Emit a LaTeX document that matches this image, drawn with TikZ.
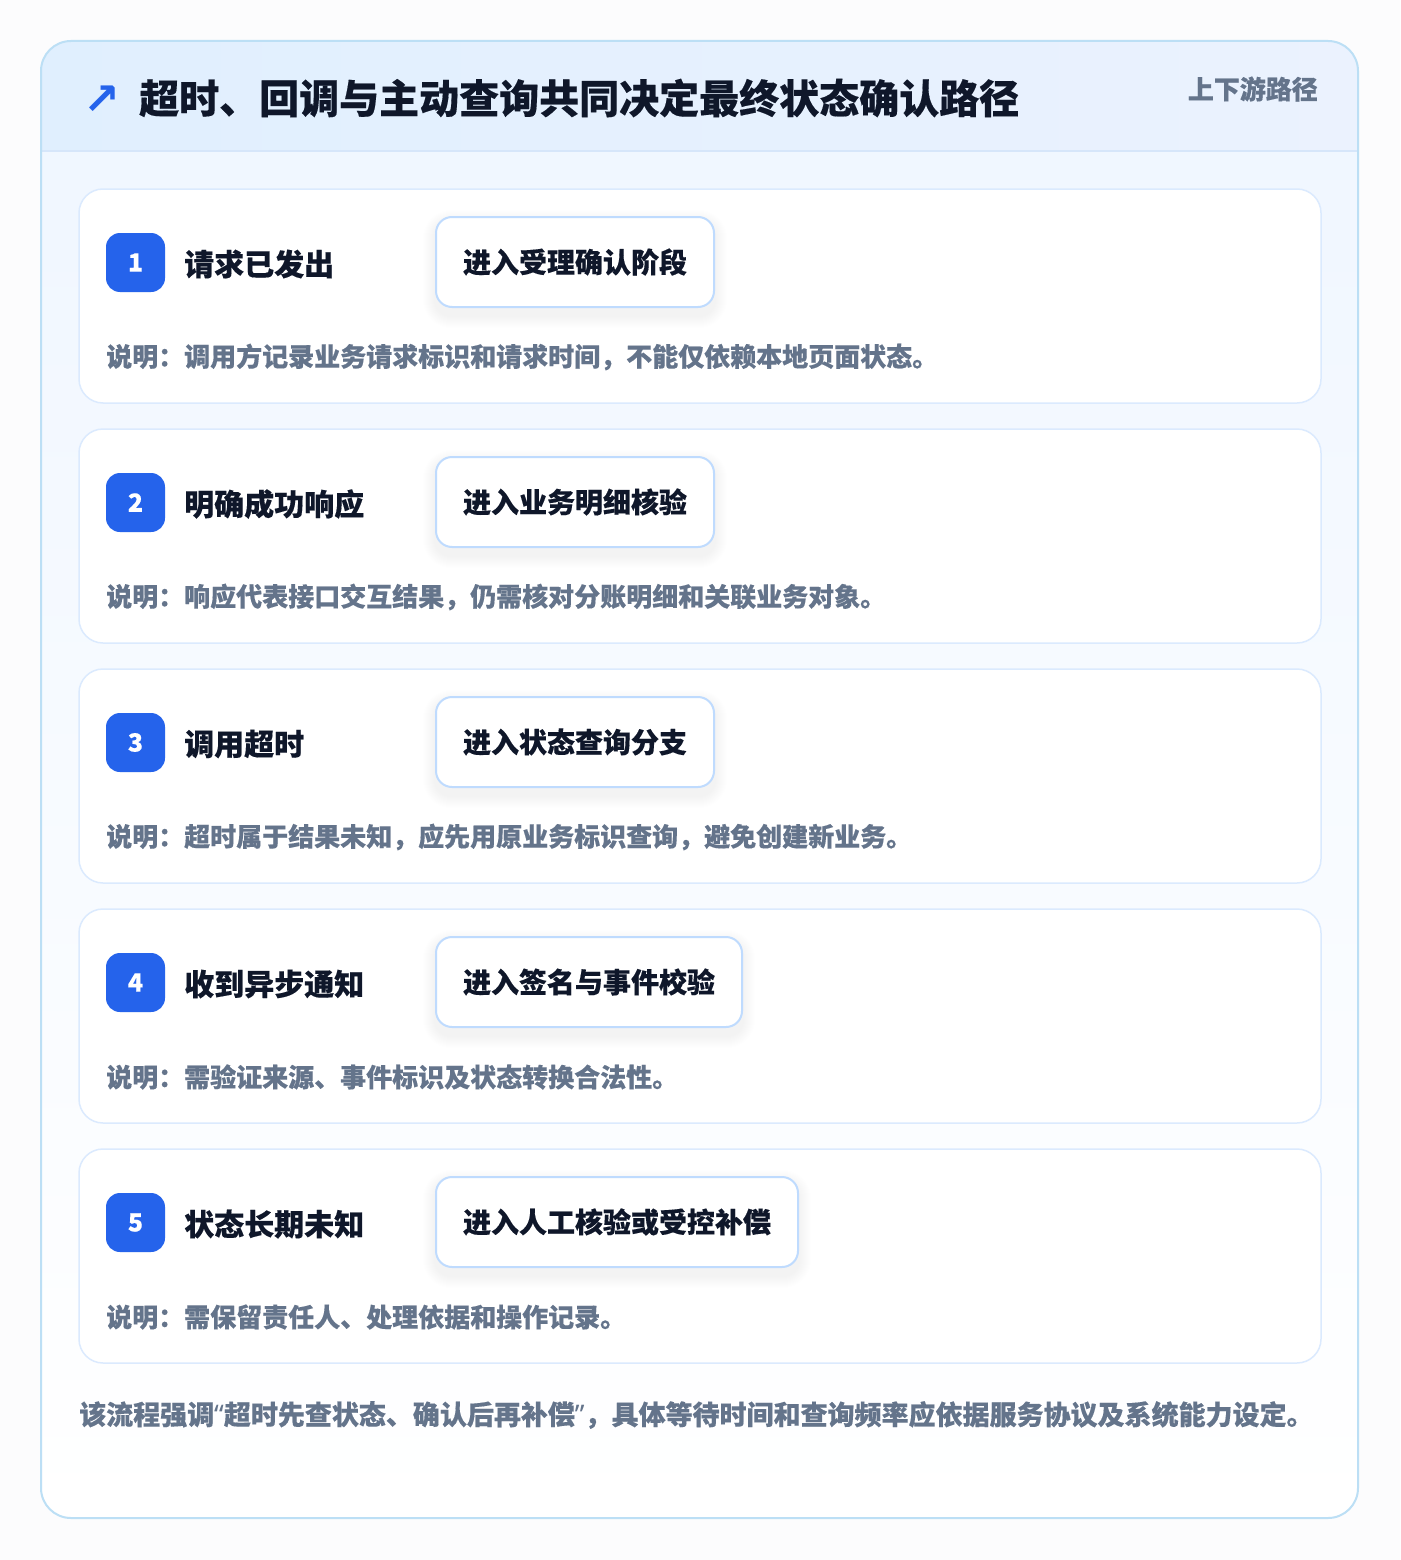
\documentclass[tikz,border=0pt]{standalone}
\usepackage{fontspec}
\setmainfont{Noto Sans CJK SC}[BoldFeatures={FakeBold=0.3}]
\newfontfamily\latinfont{Noto Sans}
\newfontfamily\symfont{DejaVu Sans}
\definecolor{pagebg}{HTML}{FCFCFD}
\definecolor{cardtop}{HTML}{EFF6FF}
\definecolor{cardborder}{HTML}{BCDFF5}
\definecolor{headl}{HTML}{E0EFFE}
\definecolor{headr}{HTML}{EBF2FE}
\definecolor{headline}{HTML}{D6E6FA}
\definecolor{stepborder}{HTML}{DBEAFE}
\definecolor{boxborder}{HTML}{BFDBFE}
\definecolor{badgeblue}{HTML}{2563EB}
\definecolor{ink}{HTML}{0F172A}
\definecolor{muted}{HTML}{64748B}
\pgfdeclarelayer{back}
\pgfdeclarelayer{mid}
\pgfsetlayers{back,mid,main}
\tikzset{
  stepcard/.style={draw=stepborder, line width=1.5pt, fill=white, rounded corners=24pt,
    minimum width=1242pt, minimum height=214pt, inner sep=0pt},
  badge/.style={fill=badgeblue, rounded corners=14pt, minimum width=59pt, minimum height=59pt,
    inner sep=0pt, text=white, font=\fontsize{25}{30}\selectfont\bfseries},
  steplabel/.style={anchor=west, inner sep=0pt, text=ink, font=\fontsize{30}{36}\selectfont\bfseries},
  actionbox/.style={draw=boxborder, line width=2pt, fill=white, rounded corners=16pt,
    minimum height=90pt, inner xsep=27pt, inner ysep=0pt, anchor=west, text=ink,
    font=\fontsize{28}{34}\selectfont\bfseries},
  desc/.style={anchor=west, inner sep=0pt, text=muted, font=\fontsize{26}{32}\selectfont\bfseries},
  shadowlayer/.style={fill=black, fill opacity=#1},
}
\newcommand{\myopenq}{{\latinfont\bfseries “}}
\newcommand{\mycloseq}{{\latinfont\bfseries ”}}
\begin{document}
\begin{tikzpicture}[x=1pt,y=-1pt]
\useasboundingbox (0,0) rectangle (1400,1560);
\begin{pgfonlayer}{back}
\fill[pagebg] (0,0) rectangle (1400,1560);
% soft shadow of the outer card
\foreach \k in {2,4,...,60}{
  \fill[shadowlayer=0.0018, rounded corners=30+\k]
    (41-\k,41-\k+22) rectangle (1358+\k,1518+\k+22);
}
% outer card
\path[rounded corners=30pt, top color=cardtop, bottom color=white] (41,41) rectangle (1358,1518);
\begin{scope}
  \clip[rounded corners=30pt] (41,41) rectangle (1358,1518);
  \fill[left color=headl, right color=headr] (41,41) rectangle (1358,151);
\end{scope}
\draw[headline, line width=1.5pt] (41,151) -- (1358,151);
\draw[cardborder, line width=2pt, rounded corners=30pt] (41,41) rectangle (1358,1518);
\end{pgfonlayer}
% header
\node[text=badgeblue, inner sep=0pt, font=\symfont\bfseries\fontsize{44}{50}\selectfont] (icon) at (102,100) {↗};
\node[anchor=west, inner sep=0pt, text=ink, font=\fontsize{40}{48}\selectfont\bfseries] (title) at (139,98) {超时、回调与主动查询共同决定最终状态确认路径};
\node[anchor=east, inner sep=0pt, text=muted, font=\fontsize{26}{30}\selectfont\bfseries] (tag) at (1318,89) {上下游路径};
% steps
\foreach \i/\lab/\act/\txt in {
  1/请求已发出/进入受理确认阶段/说明：调用方记录业务请求标识和请求时间，不能仅依赖本地页面状态。,
  2/明确成功响应/进入业务明细核验/说明：响应代表接口交互结果，仍需核对分账明细和关联业务对象。,
  3/调用超时/进入状态查询分支/说明：超时属于结果未知，应先用原业务标识查询，避免创建新业务。,
  4/收到异步通知/进入签名与事件校验/说明：需验证来源、事件标识及状态转换合法性。,
  5/状态长期未知/进入人工核验或受控补偿/说明：需保留责任人、处理依据和操作记录。}{
  \pgfmathsetmacro{\yy}{240*(\i-1)}
  \begin{pgfonlayer}{back}
    \node[stepcard] (card\i) at (700,296+\yy) {};
  \end{pgfonlayer}
  \node[badge] (badge\i) at (135.5,262.5+\yy) {\i};
  \node[steplabel] (label\i) at (184,264+\yy) {\lab};
  \node[actionbox] (box\i) at (435,262+\yy) {\act};
  \node[desc] (desc\i) at (106,357+\yy) {\txt};
  \begin{pgfonlayer}{mid}
    \foreach \k in {1,...,12}{
      \fill[shadowlayer=0.004, rounded corners=16+\k]
        ([xshift=-\k pt, yshift=\k pt-6pt]box\i.north west) rectangle ([xshift=\k pt, yshift=-\k pt-8pt]box\i.south east);
    }
  \end{pgfonlayer}
}
\node[anchor=west, inner sep=0pt, text=muted, font=\fontsize{27}{32}\selectfont\bfseries] (footer) at (79,1415)
  {该流程强调\myopenq 超时先查状态、确认后再补偿\mycloseq，具体等待时间和查询频率应依据服务协议及系统能力设定。};
\end{tikzpicture}
\end{document}
